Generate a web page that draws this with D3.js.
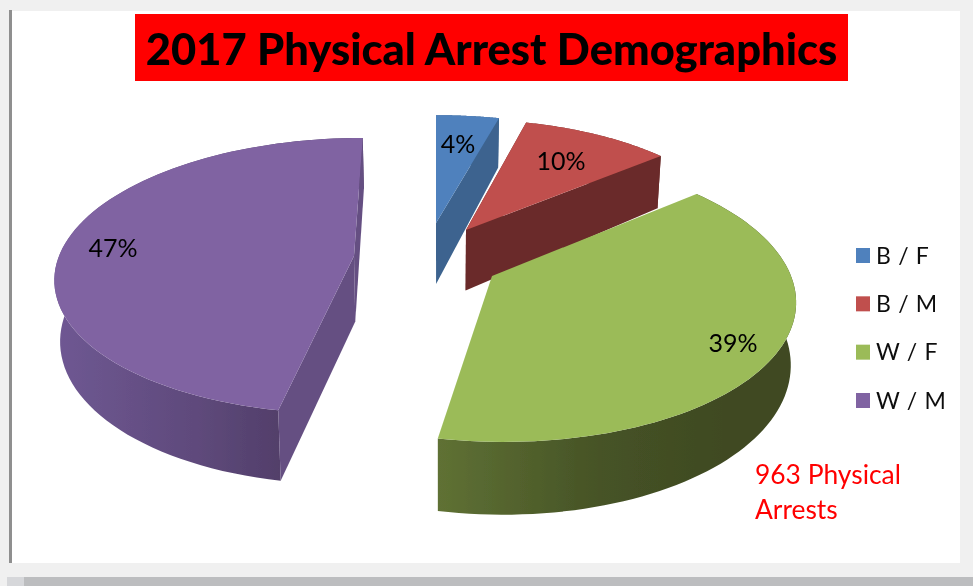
<!DOCTYPE html>
<html><head><meta charset="utf-8">
<script src="https://cdnjs.cloudflare.com/ajax/libs/d3/7.8.5/d3.min.js"></script>
<style>html,body{margin:0;padding:0;background:#f0f0f0;overflow:hidden}svg{display:block}text{font-family:Lato,"Open Sans",sans-serif}</style>
</head><body><svg id="c" width="973" height="586"></svg>
<script>
const categories = ["B / F", "B / M", "W / F", "W / M"];
const values = [4, 10, 39, 47];
const labels = ["4%", "10%", "39%", "47%"];
const titleText = "2017 Physical Arrest Demographics";
const noteLines = ["963 Physical", "Arrests"];
const topColors = ["#4f81bd", "#c0504d", "#9bbb59", "#8064a2"];
const cutColors = ["#3c648f", "#6b2b2a", "#4a5828", "#654f82"];
const rimLeft = ["#3c648f", "#6b2b2a", "#5f7134", "#6f5893"];
const rimMid = ["#3c648f", "#6b2b2a", "#465326", "#5f4a7c"];
const rimRight = ["#3c648f", "#6b2b2a", "#3f4a22", "#4f3c66"];

// Projection of each exploded slice (apex, radii, perspective, skew, extra apex depth)
const slices = [
  {x:436, y:223, f:290, g:124, k:.15, s:0, a:4},
  {x:466, y:230, f:277, g:127, k:.15, s:0, a:3},
  {x:492, y:276, f:299, g:141, k:.15, s:10, a:0},
  {x:354, y:256, f:295, g:135, k:.143, s:-10, a:6}
];
const labelPos = [[458,143],[561,160],[733,342],[113,247]];

const svg = d3.select("#c");
const defs = svg.append("defs");
defs.append("filter").attr("id","soft").attr("x",0).attr("y",0).attr("width","100%").attr("height","100%")
  .attr("filterUnits","userSpaceOnUse")
  .append("feGaussianBlur").attr("stdDeviation",.45);
const color = d3.scaleOrdinal(categories, topColors);
const pie = d3.pie().sort(null).value(d => d)(values);
const line = d3.line();

// chrome
svg.append("rect").attr("x",12).attr("y",11).attr("width",948).attr("height",552).attr("fill","#fff");
svg.append("rect").attr("x",9).attr("y",10).attr("width",3).attr("height",553).attr("fill","#8f8f8f");
svg.append("rect").attr("x",24).attr("y",577).attr("width",949).attr("height",9).attr("fill","#bcbdbf");
svg.append("rect").attr("x",7).attr("y",577).attr("width",17).attr("height",9).attr("fill","#d6d7da");

// title
svg.append("rect").attr("x",135).attr("y",14).attr("width",713).attr("height",67).attr("fill","#ff0000");
const root = svg.append("g").attr("filter","url(#soft)");
root.append("text").attr("x",491.5).attr("y",65).attr("text-anchor","middle")
  .attr("font-size",43.5).attr("font-weight",900).attr("fill","#000").text(titleText);

function project(sl, a) {
  const u = Math.sin(a), v = -Math.cos(a), w = 1 - sl.k * v;
  return [sl.x + (sl.f * u + sl.s * v) / w, sl.y + sl.g * v / w];
}
const drop = p => [440 + (p[0] - 440) * .985, p[1] * 1.072 + 41];
const arcPts = (sl, d) => {
  const n = 80;
  return d3.range(n + 1).map(i => project(sl, d.startAngle + (d.endAngle - d.startAngle) * i / n));
};

const order = [0, 1, 3, 2];
order.forEach(i => {
  const d = pie[i], sl = slices[i], pts = arcPts(sl, d), apex = [sl.x, sl.y];
  const low = pts.map(drop);
  const g = root.append("g");
  const xs = d3.extent(pts, p => p[0]);
  const gid = "rim" + i;
  const lg = defs.append("linearGradient").attr("id", gid).attr("gradientUnits","userSpaceOnUse")
    .attr("x1", xs[0]).attr("x2", xs[1]).attr("y1",0).attr("y2",0);
  lg.append("stop").attr("offset",0).attr("stop-color", rimLeft[i]);
  lg.append("stop").attr("offset",.45).attr("stop-color", rimMid[i]);
  lg.append("stop").attr("offset",.8).attr("stop-color", rimRight[i]);
  // outer rim
  g.append("path").attr("d", line(pts.concat(low.slice().reverse())) + "Z").attr("fill", `url(#${gid})`);
  // cut faces
  const lowApex = drop(apex); lowApex[1] += sl.a;
  [pts[0], pts[pts.length - 1]].forEach(e => {
    if (i === 2) return;
    g.append("path").attr("d", line([apex, e, drop(e), lowApex]) + "Z").attr("fill", cutColors[i]);
  });
  // top
  g.append("path").attr("d", line([apex].concat(pts)) + "Z").attr("fill", color(categories[i]));
});

// percent labels
root.append("g").selectAll("text").data(labels).join("text")
  .attr("x", (d,i) => labelPos[i][0]).attr("y", (d,i) => labelPos[i][1])
  .attr("text-anchor","middle").attr("dominant-baseline","central")
  .attr("font-size",25).attr("fill","#000").text(d => d);

// legend
const ly = d3.scalePoint().domain(categories).range([255.5, 400.5]);
const leg = root.append("g").selectAll("g").data(categories).join("g")
  .attr("transform", d => `translate(856,${ly(d)})`);
leg.append("rect").attr("y",-7.5).attr("width",14).attr("height",15).attr("fill", d => color(d));
leg.append("text").attr("x",20).attr("y",8).attr("font-size",23).attr("letter-spacing",.7).attr("fill","#111").text(d => d);

// note
root.append("g").selectAll("text").data(noteLines).join("text")
  .attr("x",755).attr("y",(d,i) => 484 + i * 35).attr("font-size",26.4).attr("fill","#ff0000").text(d => d);
</script></body></html>
